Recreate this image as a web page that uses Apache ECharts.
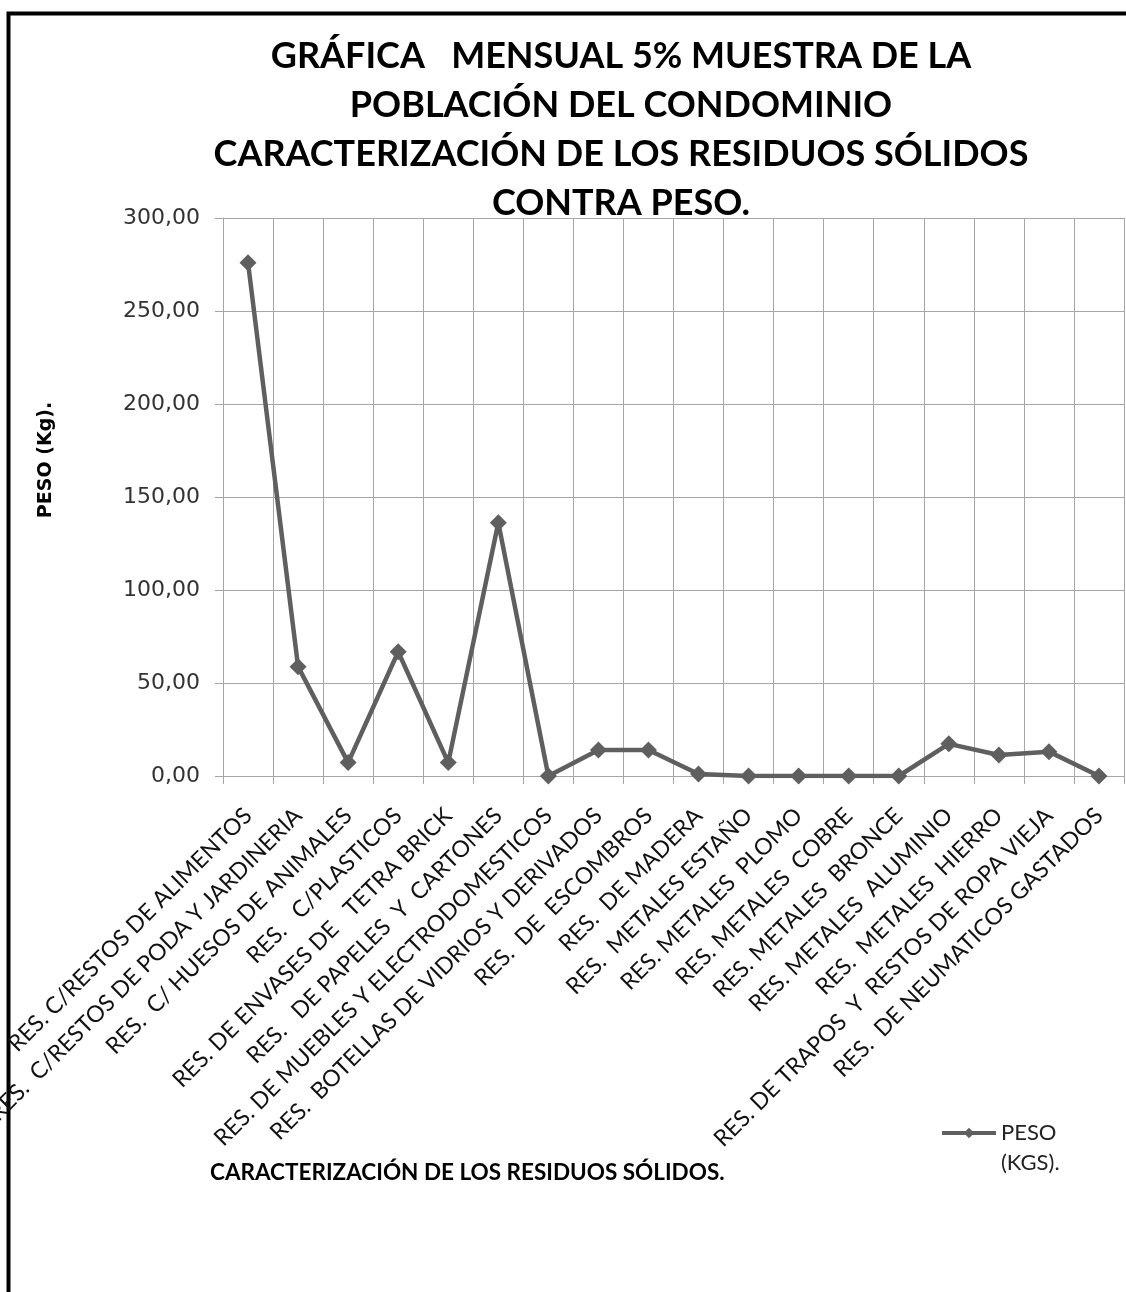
<!DOCTYPE html>
<html>
<head>
<meta charset="utf-8">
<script src="https://cdn.jsdelivr.net/npm/echarts@6/dist/echarts.min.js"></script>
<style>
  html, body { margin: 0; padding: 0; background: #fff; }
  #chart { width: 1126px; height: 1292px; }
</style>
</head>
<body>
<div id="chart"></div>
<script>
// Residue categories (x axis)
const categories = [
  'RES. C/RESTOS DE ALIMENTOS',
  'RES.  C/RESTOS DE PODA Y JARDINERIA',
  'RES.  C/ HUESOS DE ANIMALES',
  'RES.   C/PLASTICOS',
  'RES. DE ENVASES DE   TETRA BRICK',
  'RES.   DE PAPELES  Y  CARTONES',
  'RES. DE MUEBLES Y ELECTRODOMESTICOS',
  'RES.  BOTELLAS DE VIDRIOS Y DERIVADOS',
  'RES.  DE  ESCOMBROS',
  'RES.  DE MADERA',
  'RES.  METALES ESTAÑO',
  'RES. METALES  PLOMO',
  'RES. METALES  COBRE',
  'RES. METALES  BRONCE',
  'RES. METALES  ALUMINIO',
  'RES.  METALES  HIERRO',
  'RES. DE TRAPOS  Y  RESTOS DE ROPA VIEJA',
  'RES.  DE NEUMATICOS GASTADOS'
];

// Monthly weight per category (kg)
const pesoKgs = [
  275.9, 58.8, 7.2, 66.8, 7.2, 136.2, 0, 14.0, 14.0,
  1.1, 0, 0, 0, 0, 17.3, 11.3, 13.1, 0
];

const seriesName = 'PESO (KGS).';
const titleLines = [
  'GRÁFICA   MENSUAL 5% MUESTRA DE LA',
  'POBLACIÓN DEL CONDOMINIO',
  'CARACTERIZACIÓN DE LOS RESIDUOS SÓLIDOS',
  'CONTRA PESO.'
];
const yAxisTitle = 'PESO (Kg).';
const xAxisTitle = 'CARACTERIZACIÓN DE LOS RESIDUOS SÓLIDOS.';

const humanist = 'Lato, "Open Sans", sans-serif';
const gridColor = '#a6a6a6';
const lineColor = '#5f5f5f';

const chart = echarts.init(document.getElementById('chart'));
chart.setOption({
  backgroundColor: '#ffffff',
  animation: false,
  title: {
    text: titleLines.join('\n'),
    left: 616,
    top: 27,
    textAlign: 'center',
    textStyle: {
      fontFamily: humanist,
      fontWeight: 'bold',
      fontSize: 36,
      lineHeight: 49,
      color: '#000'
    }
  },
  legend: {
    left: 940,
    top: 1088,
    padding: 0,
    itemWidth: 54,
    itemHeight: 13,
    itemGap: 4,
    lineStyle: { width: 4, color: lineColor },
    // leading blank line keeps the marker level with the first text line
    formatter: name => ' \n' + name.replace(' ', '\n'),
    textStyle: {
      fontFamily: humanist,
      fontSize: 22,
      lineHeight: 30,
      color: '#222'
    }
  },
  grid: {
    left: 223,
    right: 2,
    top: 218,
    bottom: 516,
    containLabel: false,
    outerBoundsMode: 'none'
  },
  xAxis: {
    type: 'category',
    data: categories,
    boundaryGap: true,
    axisLine: { show: true, lineStyle: { color: gridColor, width: 1 } },
    axisTick: { show: true, length: 8, interval: 0, lineStyle: { color: gridColor } },
    splitLine: { show: true, interval: 0, lineStyle: { color: gridColor, width: 1 } },
    axisLabel: {
      interval: 0,
      rotate: 45,
      margin: 36,
      fontFamily: humanist,
      fontSize: 23,
      color: '#111'
    }
  },
  yAxis: {
    type: 'value',
    min: 0,
    max: 300,
    interval: 50,
    axisLine: { show: true, lineStyle: { color: gridColor, width: 1 } },
    axisTick: { show: true, length: 8, lineStyle: { color: gridColor } },
    splitLine: { show: true, lineStyle: { color: gridColor, width: 1 } },
    axisLabel: {
      margin: 23,
      fontFamily: '"DejaVu Sans", sans-serif',
      fontSize: 22,
      color: '#333',
      formatter: v => v.toFixed(2).replace('.', ',')
    }
  },
  graphic: [
    {
      type: 'rect',
      left: 6,
      top: 11,
      shape: { width: 1200, height: 1400 },
      style: { fill: 'none', stroke: '#000', lineWidth: 4 },
      silent: true
    },
    {
      type: 'text',
      x: 46,
      y: 460,
      rotation: Math.PI / 2,
      style: {
        text: yAxisTitle,
        align: 'center',
        verticalAlign: 'middle',
        fontFamily: '"DejaVu Sans", sans-serif',
        fontWeight: 'bold',
        fontSize: 19,
        fill: '#000'
      }
    },
    {
      type: 'text',
      left: 210,
      top: 1161,
      style: {
        text: xAxisTitle,
        fontFamily: humanist,
        fontWeight: 'bold',
        fontSize: 22.5,
        fill: '#000'
      }
    }
  ],
  series: [
    {
      name: seriesName,
      type: 'line',
      data: pesoKgs,
      symbol: 'diamond',
      symbolSize: 17,
      lineStyle: { color: lineColor, width: 4.5 },
      itemStyle: { color: lineColor },
      emphasis: { disabled: true }
    }
  ]
});
</script>
</body>
</html>
